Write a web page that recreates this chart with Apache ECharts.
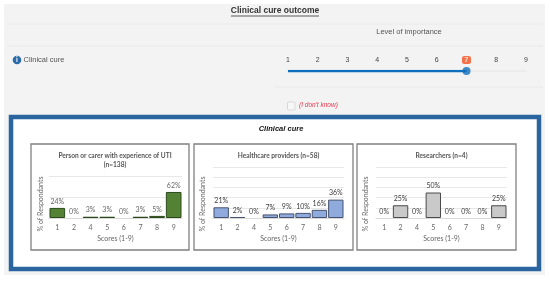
<!DOCTYPE html>
<html><head><meta charset="utf-8">
<style>html,body{margin:0;padding:0;background:#fff}#c{width:550px;height:281px}</style>
<script src="https://cdn.jsdelivr.net/npm/echarts@6/dist/echarts.min.js"></script>
</head><body><div id="c"></div>
<script>
const scores = ['1','2','4','5','6','7','8','9'];
const patients = [24,0,3,3,0,3,5,62];
const providers = [21,2,0,7,9,10,16,36];
const researchers = [0,25,0,50,0,0,0,25];
const patientsTitle = 'Person or carer with experience of UTI\n(n=138)';
const providersTitle = 'Healthcare providers (n=58)';
const researchersTitle = 'Researchers (n=4)';
const yAxisName = '% of Respondants';
const xAxisName = 'Scores (1-9)';
const sliderTicks = [1,9];
const sliderValue = 7;

const F = 'Lato, sans-serif';
const L = '"Liberation Sans", sans-serif';
const chart = echarts.init(document.getElementById('c'));
const panels = [
 {box:[31,144,158,106], plot:[49,176,133,42], nameX:40.5, data:patients, title:patientsTitle, iv:50, fill:'#548235', edge:'#2c4a1c', lab:'#666'},
 {box:[194,144,159,106], plot:[213,167,131,51], nameX:203, data:providers, title:providersTitle, iv:20, fill:'#8faadc', edge:'#46536e', lab:'#3c3c3c'},
 {box:[357,144,159,106], plot:[376,167,131,51], nameX:366, data:researchers, title:researchersTitle, iv:20, fill:'#c9c9c9', edge:'#4a4a4a', lab:'#3c3c3c'}
];
const rect=(x,y,w,h,fill,stroke,lw,z)=>({type:'rect',z:z||0,shape:{x,y,width:w,height:h},style:{fill,stroke:stroke||null,lineWidth:lw||0}});
const line=(x1,y,x2,col)=>({type:'line',z:1,shape:{x1,y1:y,x2,y2:y},style:{stroke:col,lineWidth:1}});
const text=(x,y,t,o,rot)=>({type:'text',z:3,x,y,rotation:rot||0,style:Object.assign({text:t,fontFamily:F,fontSize:8,fill:'#555',align:'center',verticalAlign:'middle'},o||{})});

const graphic=[
 rect(4,4,541,271,'#f3f3f3'),
 line(7,24,543,'#eaeaea'), line(7,46,543,'#e9e9e9'), line(275,87,543,'#e9e9e9'),
 text(275,11,'Clinical cure outcome',{fontSize:8.5,fontWeight:'bold',fill:'#333',fontFamily:L}),
 {type:'line',z:3,shape:{x1:231,y1:16,x2:319,y2:16},style:{stroke:'#333',lineWidth:0.8}},
 text(409,32,'Level of importance',{fontSize:7.5,fontFamily:L}),
 {type:'circle',z:3,shape:{cx:17,cy:60,r:4.3},style:{fill:'#2b6ca8'}},
 text(17,60,'i',{fontSize:7,fontWeight:'bold',fill:'#fff'}),
 text(23.5,59.5,'Clinical cure',{fontSize:7.5,align:'left',fontFamily:L}),
 {type:'rect',z:3,shape:{x:287.5,y:102,width:7.5,height:8,r:1},style:{fill:'#f7f7f7',stroke:'#d8d8d8',lineWidth:1}},
 text(299,105,"(I don't know)",{fontSize:6.5,fontStyle:'italic',align:'left',fill:'#e8384f',fontFamily:L}),
 rect(11,117,528,152,'#fff','#2b659f',4.5,1),
 text(281,129,'Clinical cure',{fontSize:7.5,fontWeight:'bold',fontStyle:'italic',fill:'#111',fontFamily:L})
];
panels.forEach(p=>{
 graphic.push(rect(p.box[0],p.box[1],p.box[2],p.box[3],'#fff','#808080',1.3,2));
 graphic.push(text(p.nameX,204,yAxisName,{fontSize:7,fill:'#666'},Math.PI/2));
});

const grid=[],xAxis=[],yAxis=[],series=[],title=[];
panels.forEach((p,i)=>{
 grid.push({left:p.plot[0],top:p.plot[1],width:p.plot[2],height:p.plot[3]});
 xAxis.push({type:'category',gridIndex:i,z:5,data:scores,name:xAxisName,nameLocation:'middle',nameGap:17,
  nameTextStyle:{fontSize:7,color:'#666',fontFamily:F},
  axisLine:{lineStyle:{color:'#d9d9d9'}},axisTick:{show:false},axisLabel:{fontSize:7,color:'#666',margin:6,fontFamily:F,interval:0}});
 yAxis.push({type:'value',gridIndex:i,z:5,min:0,max:100,interval:p.iv,
  axisLabel:{show:false},axisLine:{show:false},axisTick:{show:false},splitLine:{lineStyle:{color:'#e8e8e8',width:1}}});
 series.push({type:'bar',xAxisIndex:i,yAxisIndex:i,barCategoryGap:'6%',z:6,
  data:p.data.map(v=>v===0?{value:v,itemStyle:{borderWidth:0}}:v),
  itemStyle:{color:p.fill,borderColor:p.edge,borderWidth:1},
  label:{show:true,position:'top',distance:3,formatter:'{c}%',fontSize:7,color:p.lab,fontFamily:F}});
 const b=p.box;
 title.push({text:p.title,left:b[0]+b[2]/2,top:146,textAlign:'center',z:7,
  textStyle:{fontSize:6.6,fontWeight:'bold',color:'#555',fontFamily:F,lineHeight:9}});
});
// importance slider drawn on its own value axis
grid.push({left:288,top:71,width:238,height:1});
xAxis.push({type:'value',gridIndex:3,z:5,min:sliderTicks[0],max:sliderTicks[1],interval:1,position:'top',
 axisLine:{show:true,onZero:false,lineStyle:{color:'#ececec',width:2}},axisTick:{show:false},splitLine:{show:false},
 axisLabel:{fontSize:7,color:'#444',margin:7,fontFamily:L}});
yAxis.push({type:'value',gridIndex:3,min:0,max:1,show:false});
series.push({type:'line',xAxisIndex:3,yAxisIndex:3,data:[[sliderTicks[0],1],[sliderValue,1]],symbol:'none',z:6,silent:true,
 lineStyle:{color:'#0f6fbd',width:2.5}});
series.push({type:'scatter',xAxisIndex:3,yAxisIndex:3,data:[[sliderValue,1]],symbol:'circle',symbolSize:8,z:7,
 itemStyle:{color:'#0f6fbd'}});
series.push({type:'scatter',xAxisIndex:3,yAxisIndex:3,data:[[sliderValue,1]],symbol:'roundRect',symbolSize:[9,8],symbolOffset:[0,-11],z:8,
 itemStyle:{color:'#f4511e'},label:{show:true,position:'inside',formatter:p=>p.value[0],fontSize:7,fontWeight:'bold',color:'#fff',fontFamily:L}});

chart.setOption({animation:false,backgroundColor:'#fff',title,graphic:{elements:graphic},grid,xAxis,yAxis,series});
</script></body></html>
